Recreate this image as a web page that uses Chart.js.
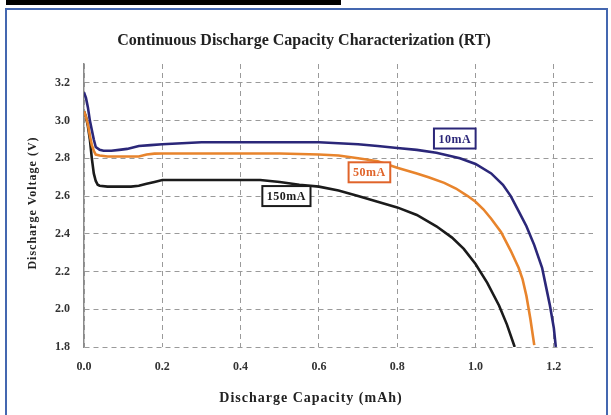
<!DOCTYPE html>
<html><head><meta charset="utf-8">
<script src="https://cdn.jsdelivr.net/npm/chart.js@4/dist/chart.umd.min.js"></script>
<style>html,body{margin:0;padding:0;background:#fff}#wrap{position:relative;width:611px;height:415px}</style>
</head><body><div id="wrap"><canvas id="c" width="611" height="415"></canvas></div>
<script>
// ---- data ----
const xTicks = [0, 0.2, 0.4, 0.6, 0.8, 1.0, 1.2];
const yTicks = [1.8, 2.0, 2.2, 2.4, 2.6, 2.8, 3.0, 3.2];
const seriesNames = ['10mA', '50mA', '150mA'];

const cap10 = [0, 0.005, 0.01, 0.015, 0.02, 0.025, 0.03, 0.04, 0.05, 0.07, 0.09, 0.11, 0.14, 0.17, 0.2, 0.25, 0.3, 0.4, 0.5, 0.6, 0.65, 0.7, 0.75, 0.8, 0.85, 0.9, 0.93, 0.96, 1.0, 1.04, 1.07, 1.09, 1.11, 1.13, 1.15, 1.17, 1.18, 1.19, 1.2, 1.205];
const volt10 = [3.15, 3.12, 3.07, 3.0, 2.95, 2.90, 2.86, 2.845, 2.84, 2.84, 2.845, 2.85, 2.865, 2.87, 2.875, 2.88, 2.885, 2.885, 2.885, 2.885, 2.88, 2.875, 2.865, 2.855, 2.845, 2.83, 2.815, 2.80, 2.77, 2.72, 2.66, 2.60, 2.52, 2.44, 2.34, 2.22, 2.12, 2.02, 1.90, 1.80];

const cap50 = [0, 0.005, 0.01, 0.015, 0.02, 0.025, 0.03, 0.04, 0.06, 0.1, 0.14, 0.16, 0.18, 0.2, 0.3, 0.4, 0.5, 0.6, 0.65, 0.7, 0.75, 0.8, 0.85, 0.88, 0.92, 0.95, 0.98, 1.0, 1.02, 1.04, 1.065, 1.09, 1.11, 1.12, 1.13, 1.14, 1.15];
const volt50 = [3.05, 3.02, 2.98, 2.92, 2.87, 2.84, 2.82, 2.815, 2.81, 2.81, 2.81, 2.82, 2.825, 2.826, 2.826, 2.826, 2.826, 2.82, 2.815, 2.80, 2.785, 2.75, 2.72, 2.70, 2.67, 2.64, 2.60, 2.57, 2.53, 2.48, 2.41, 2.31, 2.22, 2.16, 2.07, 1.95, 1.81];

const cap150 = [0, 0.005, 0.01, 0.015, 0.02, 0.025, 0.03, 0.035, 0.04, 0.06, 0.1, 0.12, 0.14, 0.16, 0.18, 0.2, 0.3, 0.4, 0.45, 0.5, 0.55, 0.6, 0.65, 0.7, 0.75, 0.8, 0.85, 0.9, 0.94, 0.97, 1.0, 1.03, 1.06, 1.08, 1.1];
const volt150 = [3.05, 3.02, 2.97, 2.90, 2.80, 2.72, 2.68, 2.66, 2.655, 2.65, 2.65, 2.65, 2.655, 2.665, 2.675, 2.685, 2.685, 2.685, 2.685, 2.675, 2.66, 2.65, 2.63, 2.60, 2.57, 2.54, 2.50, 2.44, 2.38, 2.32, 2.24, 2.14, 2.02, 1.92, 1.80];

const titleText = 'Continuous Discharge Capacity Characterization (RT)';
const xTitle = 'Discharge Capacity (mAh)';
const yTitle = 'Discharge Voltage (V)';

// ---- styling ----
const colors = ['#2b2779', '#e8842c', '#1b1b1b'];
const labelColors = ['#2b2779', '#e0642a', '#1b1b1b'];
const SERIF = '"Liberation Serif", "Times New Roman", serif';
const toPts = (xs, ys) => xs.map((x, i) => ({x, y: ys[i]}));

const seriesLabelPos = [ {x: 0.947, y: 2.905}, {x: 0.729, y: 2.726}, {x: 0.517, y: 2.60} ];

const decorPlugin = {
  id: 'decor',
  beforeDraw(chart) {
    const ctx = chart.ctx;
    ctx.save();
    ctx.fillStyle = '#ffffff';
    ctx.fillRect(0, 0, chart.width, chart.height);
    ctx.fillStyle = '#000';
    ctx.fillRect(6, 0, 335, 5);
    ctx.strokeStyle = '#4467b0';
    ctx.lineWidth = 2;
    ctx.strokeRect(6, 9, 601, 412);
    ctx.restore();
  },
  afterDraw(chart) {
    const ctx = chart.ctx;
    ctx.save();
    ctx.fillStyle = '#222';
    ctx.textAlign = 'center';
    ctx.textBaseline = 'middle';
    ctx.font = 'bold 16px ' + SERIF;
    ctx.fillText(titleText, 304, 41);
    ctx.letterSpacing = '1px';
    ctx.font = 'bold 14px ' + SERIF;
    ctx.fillText(xTitle, 311, 398);
    ctx.translate(33, 203);
    ctx.rotate(-Math.PI / 2);
    ctx.font = 'bold 12px ' + SERIF;
    ctx.fillText(yTitle, 0, 0);
    ctx.restore();
  }
};

const labelPlugin = {
  id: 'seriesLabels',
  afterDatasetsDraw(chart) {
    const ctx = chart.ctx, xs = chart.scales.x, ys = chart.scales.y;
    ctx.save();
    ctx.font = 'bold 12px ' + SERIF;
    ctx.letterSpacing = '0.5px';
    ctx.textAlign = 'center';
    ctx.textBaseline = 'middle';
    seriesNames.forEach((name, i) => {
      const px = xs.getPixelForValue(seriesLabelPos[i].x);
      const py = ys.getPixelForValue(seriesLabelPos[i].y);
      const w = ctx.measureText(name).width + 9, h = 20;
      ctx.fillStyle = '#fff';
      ctx.fillRect(px - w / 2, py - h / 2, w, h);
      ctx.strokeStyle = labelColors[i];
      ctx.lineWidth = 2;
      ctx.strokeRect(px - w / 2, py - h / 2, w, h);
      ctx.fillStyle = labelColors[i];
      ctx.fillText(name, px, py + 1);
    });
    ctx.restore();
  }
};

const tickFont = {family: SERIF, size: 12, weight: 'bold'};

new Chart(document.getElementById('c'), {
  type: 'line',
  data: {
    datasets: [
      {label: seriesNames[0], data: toPts(cap10, volt10), borderColor: colors[0]},
      {label: seriesNames[1], data: toPts(cap50, volt50), borderColor: colors[1]},
      {label: seriesNames[2], data: toPts(cap150, volt150), borderColor: colors[2]}
    ].map(d => Object.assign(d, {borderWidth: 2.6, pointRadius: 0, tension: 0, fill: false}))
  },
  options: {
    responsive: false,
    animation: false,
    devicePixelRatio: 1,
    layout: {padding: {top: 64, right: 18, left: 0, bottom: 0}},
    plugins: {legend: {display: false}, tooltip: {enabled: false}, title: {display: false}},
    scales: {
      x: {
        type: 'linear', min: 0, max: 1.3,
        afterBuildTicks: s => { s.ticks = xTicks.map(v => ({value: v})); },
        afterFit: s => { s.height = 68; },
        ticks: {font: tickFont, color: '#333', padding: 13, callback: v => Number(v).toFixed(1), maxRotation: 0, autoSkip: false},
        grid: {color: '#9a9a9a', lineWidth: 1, drawTicks: false},
        border: {display: false, dash: [5, 4]}
      },
      y: {
        type: 'linear', min: 1.8, max: 3.3,
        afterBuildTicks: s => { s.ticks = yTicks.map(v => ({value: v})); },
        afterFit: s => { s.width = 84; },
        ticks: {font: tickFont, color: '#333', padding: 14, callback: v => Number(v).toFixed(1), autoSkip: false},
        grid: {color: '#9a9a9a', lineWidth: 1, drawTicks: false},
        border: {display: true, color: '#8a8a8a', width: 1.5, dash: [5, 4]}
      }
    }
  },
  plugins: [decorPlugin, labelPlugin]
});
</script></body></html>
